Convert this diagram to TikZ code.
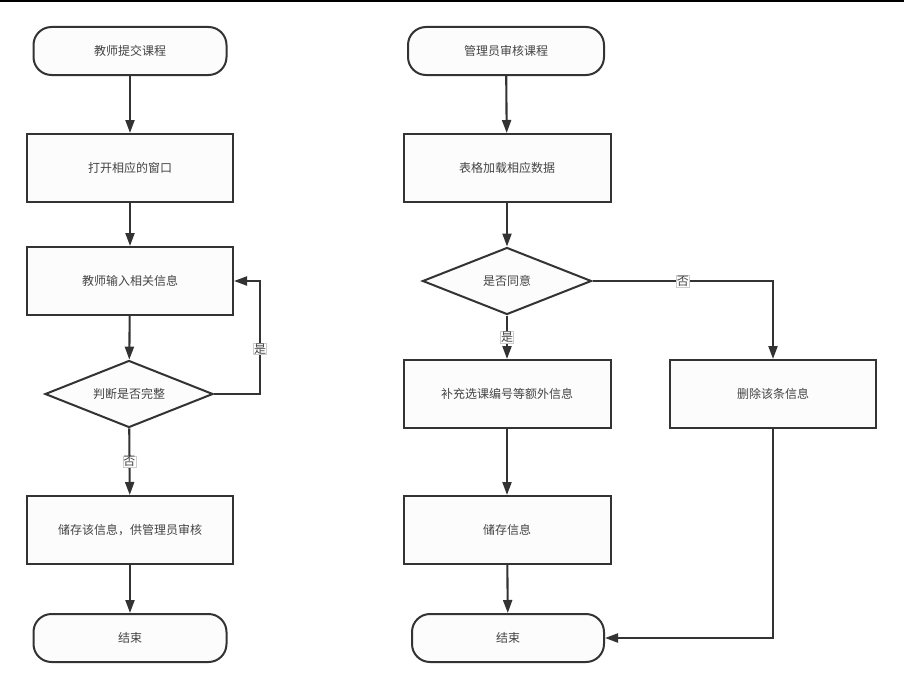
\documentclass[tikz,border=0pt]{standalone}
\usepackage{fontspec}
\setmainfont{Noto Sans CJK SC}
\usepackage{tikz}
\usetikzlibrary{arrows.meta,shapes.geometric}
\definecolor{linegray}{HTML}{333333}
\definecolor{textgray}{HTML}{444444}

\begin{document}
\begin{tikzpicture}[x=1pt,y=-1pt]
    \tikzstyle{every node}=[font=\fontsize{12pt}{14pt}\selectfont, text=textgray]
    \tikzstyle{terminal}=[draw=linegray, line width=2pt, rounded corners=18pt, fill=black!1, inner sep=0pt, minimum height=48pt]
    \tikzstyle{process}=[draw=linegray, line width=2pt, fill=black!1, inner sep=0pt, minimum width=206pt, minimum height=68pt]
    \tikzstyle{decision}=[draw=linegray, line width=2pt, diamond, aspect=2.5, fill=black!1, inner sep=0pt, minimum width=168pt, minimum height=67pt]
    \tikzstyle{arrow}=[draw=linegray, line width=2.1pt, -{Triangle[length=13pt,width=9pt]}]
    \tikzstyle{answer}=[fill=white, draw=black!20, line width=0.4pt, inner sep=0.6pt]

    \useasboundingbox (0,0) rectangle (904,685);
    % top rule
    \fill[black] (0,0) rectangle (904,2.5);

    % teacher nodes
    \node[terminal, minimum width=193pt] (tstart) at (130,51) {教师提交课程};
    \node[process] (topen) at (130,168) {打开相应的窗口};
    \node[process] (tinput) at (130,281) {教师输入相关信息};
    \node[decision] (tcheck) at (129,394) {判断是否完整};
    \node[process] (tstore) at (130,530) {储存该信息，供管理员审核};
    \node[terminal, minimum width=193pt] (tend) at (130,638) {结束};
    \coordinate (tloop) at (260,394);

    % teacher wires
    \draw[arrow] (tstart) -- (topen);
    \draw[arrow] (topen) -- (tinput);
    \draw[arrow] (tinput) -- (tcheck);
    \draw[arrow] (tcheck.east) -- (tloop) -- node[answer, pos=0.4] {是} (tloop |- tinput.east) -- (tinput.east);
    \draw[arrow] (tcheck) -- node[answer] {否} (tstore);
    \draw[arrow] (tstore) -- (tend);

    % admin nodes
    \node[terminal, minimum width=196pt] (astart) at (506,51) {管理员审核课程};
    \node[process, minimum width=207pt] (aload) at (507,168) {表格加载相应数据};
    \node[decision, minimum width=169pt] (aagree) at (507,281) {是否同意};
    \node[process, minimum width=207pt] (afill) at (507,394) {补充选课编号等额外信息};
    \node[process] (adelete) at (773,394) {删除该条信息};
    \node[process, minimum width=207pt] (asave) at (507,530) {储存信息};
    \node[terminal, minimum width=192pt] (aend) at (508,638) {结束};

    % admin wires
    \draw[arrow] (astart) -- (aload);
    \draw[arrow] (aload) -- (aagree);
    \draw[arrow] (aagree) -- node[answer] {是} (afill);
    \draw[arrow] (aagree.east) -| node[answer, pos=0.25] {否} (adelete.north);
    \draw[arrow] (afill) -- (asave);
    \draw[arrow] (asave) -- (aend);
    \draw[arrow] (adelete.south) |- (aend.east);

\end{tikzpicture}
\end{document}
